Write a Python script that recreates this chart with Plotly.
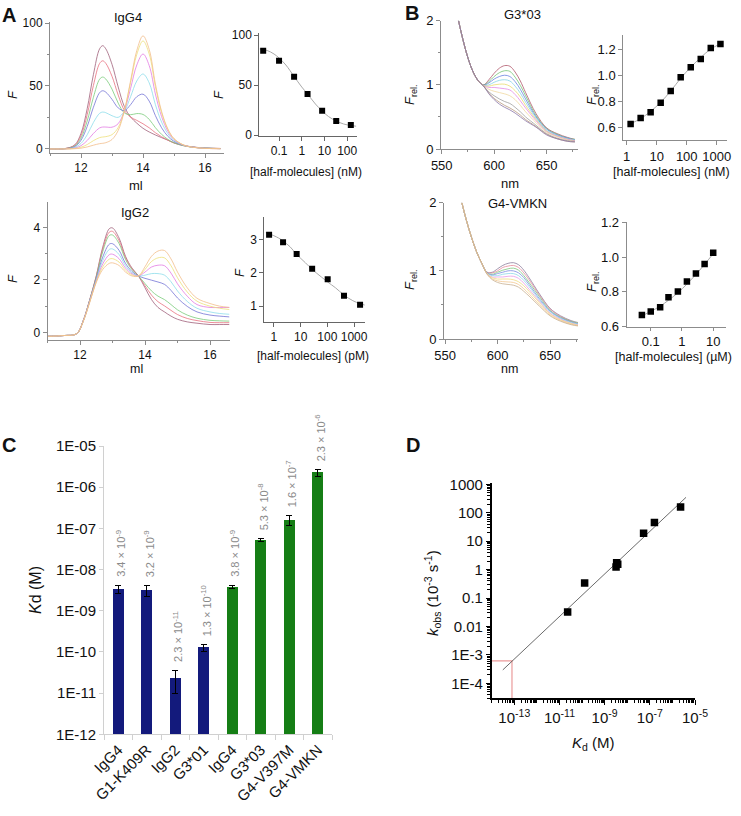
import math
import plotly.graph_objects as go

W, H = 741, 816
FONT = "Liberation Sans, Arial, Helvetica, sans-serif"

# ---------------- Panel A : SEC traces ----------------
igg4_ml = [11.0, 11.5, 11.8, 12.0, 12.2, 12.4, 12.6, 12.7, 12.8, 13.0, 13.2, 13.4,
           13.6, 13.8, 14.0, 14.2, 14.4, 14.6, 14.8, 15.0, 15.3, 15.6, 16.0, 16.5]
igg4_brown = [0, 0.4, 3.3, 12.3, 32.0, 59.0, 79.5, 82.0, 79.5, 67.2, 49.2, 33.6, 25.4, 20.5, 16.4, 13.5, 11.1, 9.0, 7.0, 4.9, 2.9, 1.6, 0.8, 0.4]
igg4_red = [0, 0.4, 2.8, 10.5, 27.3, 50.4, 67.9, 70.0, 68.0, 57.7, 42.8, 30.6, 25.3, 22.7, 20.0, 16.8, 12.9, 9.7, 7.0, 4.7, 2.7, 1.5, 0.7, 0.4]
igg4_green = [0, 0.3, 2.3, 8.6, 22.2, 41.0, 55.4, 57.1, 55.5, 47.5, 36.4, 28.6, 27.2, 28.1, 27.4, 23.5, 16.9, 11.6, 7.7, 4.9, 2.6, 1.4, 0.7, 0.3]
igg4_blue = [0, 0.2, 1.8, 6.9, 17.9, 33.1, 44.7, 46.2, 45.1, 39.4, 32.6, 30.5, 35.2, 41.5, 43.5, 38.0, 26.5, 16.8, 10.1, 6.0, 2.9, 1.5, 0.6, 0.3]
igg4_cyan = [0, 0.2, 1.2, 4.4, 11.3, 21.0, 28.3, 29.3, 28.8, 26.4, 25.1, 30.0, 41.5, 54.0, 59.5, 52.5, 35.2, 21.3, 12.2, 6.7, 3.0, 1.4, 0.6, 0.3]
igg4_magenta = [0, 0.1, 0.7, 2.6, 6.7, 12.3, 16.7, 17.4, 17.4, 17.3, 20.1, 30.3, 48.1, 66.7, 75.4, 66.2, 43.6, 25.7, 14.1, 7.5, 3.1, 1.4, 0.5, 0.2]
igg4_yellow = [0, 0.05, 0.4, 1.4, 3.5, 6.6, 9.0, 9.5, 9.8, 11.4, 17.0, 30.8, 52.8, 75.1, 85.8, 75.4, 49.4, 28.7, 15.6, 8.1, 3.3, 1.4, 0.5, 0.2]
igg4_orange = [0, 0.02, 0.2, 0.6, 1.6, 3.0, 4.2, 4.5, 5.0, 7.5, 14.7, 30.3, 54.2, 78.2, 89.8, 79.0, 51.6, 29.8, 16.0, 8.2, 3.2, 1.4, 0.5, 0.2]
igg4_traces = [igg4_brown, igg4_red, igg4_green, igg4_blue, igg4_cyan, igg4_magenta, igg4_yellow, igg4_orange]

igg2_ml = [11.0, 11.5, 11.9, 12.1, 12.3, 12.5, 12.7, 12.9, 13.0, 13.2, 13.4, 13.6,
           13.8, 14.0, 14.2, 14.4, 14.6, 14.8, 15.0, 15.3, 15.6, 16.0, 16.3, 16.6]
igg2_brown = [-0.15, -0.12, -0.05, 0.45, 1.25, 2.15, 3.25, 3.95, 3.98, 3.6, 2.9, 2.45, 2.15, 1.7, 1.25, 0.95, 0.78, 0.62, 0.5, 0.4, 0.35, 0.3, 0.3, 0.3]
igg2_red = [-0.15, -0.12, -0.05, 0.45, 1.24, 2.13, 3.17, 3.82, 3.85, 3.5, 2.84, 2.42, 2.15, 1.78, 1.42, 1.17, 1.01, 0.84, 0.68, 0.53, 0.45, 0.38, 0.37, 0.37]
igg2_green = [-0.15, -0.12, -0.05, 0.44, 1.23, 2.1, 3.08, 3.69, 3.71, 3.39, 2.78, 2.39, 2.15, 1.86, 1.58, 1.38, 1.25, 1.06, 0.86, 0.66, 0.54, 0.46, 0.44, 0.43]
igg2_blue = [-0.15, -0.12, -0.05, 0.44, 1.21, 2.04, 2.87, 3.36, 3.38, 3.13, 2.63, 2.32, 2.15, 2.06, 1.99, 1.92, 1.83, 1.6, 1.31, 0.99, 0.78, 0.66, 0.62, 0.59]
igg2_cyan = [-0.15, -0.12, -0.05, 0.43, 1.19, 2.0, 2.74, 3.16, 3.18, 2.97, 2.54, 2.27, 2.15, 2.18, 2.24, 2.24, 2.18, 1.93, 1.58, 1.18, 0.92, 0.78, 0.72, 0.69]
igg2_magenta = [-0.15, -0.12, -0.05, 0.43, 1.18, 1.96, 2.61, 2.96, 2.98, 2.81, 2.45, 2.23, 2.15, 2.3, 2.49, 2.56, 2.54, 2.26, 1.85, 1.38, 1.06, 0.95, 0.95, 0.95]
igg2_yellow = [-0.15, -0.12, -0.05, 0.42, 1.16, 1.93, 2.5, 2.79, 2.81, 2.68, 2.37, 2.19, 2.15, 2.4, 2.7, 2.84, 2.84, 2.54, 2.08, 1.54, 1.19, 1.0, 0.92, 0.87]
igg2_pink = [-0.15, -0.12, -0.05, 0.42, 1.15, 1.9, 2.4, 2.63, 2.65, 2.55, 2.3, 2.15, 2.15, 2.5, 2.9, 3.1, 3.12, 2.8, 2.3, 1.7, 1.3, 1.1, 1.0, 0.95]
igg2_traces = [igg2_brown, igg2_red, igg2_green, igg2_blue, igg2_cyan, igg2_magenta, igg2_yellow, igg2_pink]
sec_colors = ["#A0607A", "#E8707F", "#7ACB7A", "#7373D5", "#8DDDEB", "#E37BE3", "#EEE07A", "#F2BE8A"]

# titration, IgG4 (nM)
a_nm_conc = [0.02, 0.1, 0.46, 1.8, 7.9, 33, 145]
a_nm_F = [84.3, 74.3, 58.3, 41.0, 24.3, 14.0, 10.0]
a_nm_fit_x = [0.014, 0.03, 0.06, 0.1, 0.2, 0.46, 1.0, 1.8, 4.0, 7.9, 15, 33, 70, 145, 250]
a_nm_fit_y = [86, 84.5, 81, 77, 70, 58.5, 48, 41, 31, 24, 18.5, 14, 11, 9.5, 8.8]

# titration, IgG2 (pM)
a_pm_conc = [0.66, 2.2, 7.1, 27, 103, 420, 1680]
a_pm_F = [3.14, 2.91, 2.56, 2.12, 1.80, 1.31, 1.04]
a_pm_fit_x = [0.5, 0.66, 1.5, 2.2, 4, 7.1, 15, 27, 60, 103, 200, 420, 900, 1680, 2500]
a_pm_fit_y = [3.2, 3.17, 3.04, 2.95, 2.78, 2.55, 2.3, 2.1, 1.87, 1.72, 1.55, 1.33, 1.16, 1.07, 1.03]

# ---------------- Panel B : spectra ----------------
spec_nm = [566, 570, 575, 580, 585, 590, 595, 600, 605, 610, 615, 620, 625, 630, 640, 650, 660, 670, 677]
g303_spectra = [
    [2.0, 1.72, 1.42, 1.2, 1.06, 1.0, 1.08, 1.18, 1.26, 1.3, 1.29, 1.2, 1.06, 0.88, 0.55, 0.33, 0.24, 0.18, 0.15],
    [2.0, 1.72, 1.42, 1.2, 1.06, 1.0, 1.05, 1.13, 1.19, 1.22, 1.21, 1.12, 0.99, 0.83, 0.52, 0.32, 0.23, 0.17, 0.15],
    [2.0, 1.72, 1.42, 1.2, 1.06, 0.995, 1.03, 1.09, 1.13, 1.15, 1.13, 1.05, 0.93, 0.78, 0.5, 0.31, 0.22, 0.17, 0.14],
    [2.0, 1.72, 1.42, 1.2, 1.06, 0.99, 1.0, 1.04, 1.07, 1.08, 1.06, 0.98, 0.87, 0.73, 0.48, 0.29, 0.21, 0.16, 0.14],
    [2.0, 1.72, 1.42, 1.2, 1.06, 0.99, 0.98, 1.0, 1.01, 1.01, 0.98, 0.91, 0.81, 0.68, 0.46, 0.28, 0.2, 0.15, 0.13],
    [2.0, 1.72, 1.42, 1.2, 1.06, 0.99, 0.96, 0.96, 0.95, 0.94, 0.92, 0.85, 0.75, 0.64, 0.44, 0.27, 0.2, 0.15, 0.13],
    [2.0, 1.72, 1.42, 1.2, 1.06, 0.99, 0.93, 0.9, 0.88, 0.86, 0.83, 0.77, 0.68, 0.58, 0.41, 0.26, 0.19, 0.14, 0.12],
    [2.0, 1.72, 1.42, 1.2, 1.06, 0.98, 0.89, 0.83, 0.78, 0.74, 0.71, 0.65, 0.58, 0.5, 0.37, 0.24, 0.17, 0.13, 0.12],
    [2.0, 1.72, 1.42, 1.2, 1.06, 0.98, 0.87, 0.79, 0.73, 0.68, 0.64, 0.59, 0.53, 0.46, 0.35, 0.23, 0.16, 0.12, 0.11],
    [2.0, 1.72, 1.42, 1.2, 1.06, 0.98, 0.86, 0.77, 0.7, 0.65, 0.61, 0.56, 0.5, 0.44, 0.34, 0.22, 0.16, 0.12, 0.11],
]
g303_colors = ["#B0566A", "#74C474", "#6A84DF", "#86D3E6", "#EADC70", "#E48AE4",
               "#F0D8A0", "#A0A0A0", "#B89A80", "#8A76A8"]

vmkn_spectra = [
    [2.0, 1.76, 1.5, 1.28, 1.11, 0.98, 0.98, 1.03, 1.08, 1.11, 1.12, 1.09, 1.01, 0.9, 0.66, 0.45, 0.34, 0.27, 0.24],
    [2.0, 1.76, 1.5, 1.28, 1.11, 0.98, 0.97, 1.0, 1.05, 1.07, 1.08, 1.05, 0.97, 0.87, 0.64, 0.44, 0.33, 0.26, 0.23],
    [2.0, 1.76, 1.5, 1.28, 1.11, 0.97, 0.95, 0.98, 1.01, 1.03, 1.04, 1.01, 0.93, 0.83, 0.62, 0.42, 0.32, 0.26, 0.23],
    [2.0, 1.76, 1.5, 1.28, 1.11, 0.97, 0.94, 0.96, 0.98, 1.0, 1.0, 0.97, 0.9, 0.8, 0.59, 0.41, 0.31, 0.25, 0.22],
    [2.0, 1.76, 1.5, 1.28, 1.11, 0.965, 0.93, 0.93, 0.95, 0.96, 0.96, 0.93, 0.86, 0.77, 0.57, 0.4, 0.3, 0.24, 0.22],
    [2.0, 1.76, 1.5, 1.28, 1.11, 0.96, 0.91, 0.91, 0.91, 0.92, 0.92, 0.89, 0.82, 0.73, 0.55, 0.38, 0.29, 0.23, 0.21],
    [2.0, 1.76, 1.5, 1.28, 1.11, 0.96, 0.9, 0.88, 0.88, 0.88, 0.87, 0.84, 0.78, 0.7, 0.53, 0.37, 0.28, 0.23, 0.2],
    [2.0, 1.76, 1.5, 1.28, 1.11, 0.954, 0.883, 0.854, 0.842, 0.837, 0.83, 0.8, 0.737, 0.662, 0.502, 0.353, 0.27, 0.217, 0.196],
    [2.0, 1.76, 1.5, 1.28, 1.11, 0.95, 0.87, 0.83, 0.81, 0.8, 0.79, 0.76, 0.7, 0.63, 0.48, 0.34, 0.26, 0.21, 0.19],
]
vmkn_colors = ["#8C7C9C", "#E58A9A", "#7CC87C", "#7C8CE0", "#8CD8E8", "#E79AE7",
               "#F0DC80", "#F2C890", "#C8B090"]

b_nm_conc = [1.36, 2.93, 6.3, 13.6, 29.3, 63, 136, 293, 631, 1325]
b_nm_F = [0.623, 0.669, 0.713, 0.787, 0.877, 0.982, 1.059, 1.123, 1.208, 1.238]
b_nm_fit_x = [1.36, 2.93, 6.3, 13.6, 29.3, 63, 136, 293, 631, 1325]
b_nm_fit_y = [0.625, 0.665, 0.72, 0.79, 0.877, 0.975, 1.06, 1.135, 1.2, 1.24]

b_um_conc = [0.052, 0.1, 0.2, 0.37, 0.74, 1.44, 2.8, 5.3, 10.0]
b_um_F = [0.667, 0.687, 0.712, 0.769, 0.802, 0.86, 0.906, 0.96, 1.025]
b_um_fit_x = [0.052, 0.1, 0.2, 0.37, 0.74, 1.44, 2.8, 5.3, 10.0]
b_um_fit_y = [0.662, 0.688, 0.718, 0.752, 0.795, 0.845, 0.9, 0.958, 1.02]

# ---------------- Panel C : Kd bars ----------------
c_labels = ["IgG4", "G1-K409R", "IgG2", "G3*01", "IgG4", "G3*03", "G4-V397M", "G4-VMKN"]
c_kd = [3.4e-9, 3.2e-9, 2.3e-11, 1.3e-10, 3.8e-9, 5.3e-8, 1.6e-7, 2.3e-6]
c_err = [0.8e-9, 1.0e-9, 1.3e-11, 0.25e-10, 0.4e-9, 0.5e-8, 0.45e-7, 0.45e-6]
c_text = ["3.4 × 10<sup>-9</sup>", "3.2 × 10<sup>-9</sup>", "2.3 × 10<sup>-11</sup>",
          "1.3 × 10<sup>-10</sup>", "3.8 × 10<sup>-9</sup>", "5.3 × 10<sup>-8</sup>",
          "1.6 × 10<sup>-7</sup>", "2.3 × 10<sup>-6</sup>"]
c_group = ["blue", "blue", "blue", "blue", "green", "green", "green", "green"]

# ---------------- Panel D : kobs vs Kd ----------------
d_kd = [2.3e-11, 1.3e-10, 3.4e-9, 3.2e-9, 3.8e-9, 5.3e-8, 1.6e-7, 2.3e-6]
d_kobs = [0.032, 0.34, 1.75, 1.25, 1.55, 19, 46, 160]
d_fit_kd = [3.1e-14, 4.0e-6]
d_fit_kobs = [2.95e-4, 351]
d_extrap_kd = 7.9e-14
d_extrap_kobs = 6.1e-4
d_xticks = [1e-13, 1e-11, 1e-9, 1e-7, 1e-5]
d_xticktext = ["10<sup>-13</sup>", "10<sup>-11</sup>", "10<sup>-9</sup>", "10<sup>-7</sup>", "10<sup>-5</sup>"]


def dx(a, b):
    return [a / W, b / W]


def dy(t, b):
    return [1 - b / H, 1 - t / H]


GRAY = "#8c8c8c"
base = dict(showline=True, linecolor=GRAY, linewidth=1, ticks="outside", ticklen=4,
            tickcolor=GRAY, showgrid=False, zeroline=False, fixedrange=True,
            automargin=False, tickangle=0,
            tickfont=dict(family=FONT, size=12, color="#111"))


def ax(**kw):
    d = dict(base)
    d.update(kw)
    return d


fig = go.Figure()

# A1
for ys, c in zip(igg4_traces, sec_colors):
    fig.add_trace(go.Scatter(x=igg4_ml, y=ys, mode="lines", line=dict(color=c, width=0.8, shape="spline"),
                             xaxis="x", yaxis="y", showlegend=False))
# A2
fig.add_trace(go.Scatter(x=a_nm_fit_x, y=a_nm_fit_y, mode="lines", line=dict(color="#aaa", width=1, shape="spline"),
                         xaxis="x2", yaxis="y2", showlegend=False))
fig.add_trace(go.Scatter(x=a_nm_conc, y=a_nm_F, mode="markers", marker=dict(symbol="square", size=6, color="black"),
                         xaxis="x2", yaxis="y2", showlegend=False))
# A3
for ys, c in zip(igg2_traces, sec_colors):
    fig.add_trace(go.Scatter(x=igg2_ml, y=ys, mode="lines", line=dict(color=c, width=0.8, shape="spline"),
                             xaxis="x3", yaxis="y3", showlegend=False))
# A4
fig.add_trace(go.Scatter(x=a_pm_fit_x, y=a_pm_fit_y, mode="lines", line=dict(color="#aaa", width=1, shape="spline"),
                         xaxis="x4", yaxis="y4", showlegend=False))
fig.add_trace(go.Scatter(x=a_pm_conc, y=a_pm_F, mode="markers", marker=dict(symbol="square", size=6, color="black"),
                         xaxis="x4", yaxis="y4", showlegend=False))
# B1
for ys, c in zip(g303_spectra, g303_colors):
    fig.add_trace(go.Scatter(x=spec_nm, y=ys, mode="lines", line=dict(color=c, width=0.8, shape="spline"),
                             xaxis="x5", yaxis="y5", showlegend=False))
# B2
fig.add_trace(go.Scatter(x=b_nm_fit_x, y=b_nm_fit_y, mode="lines", line=dict(color="#aaa", width=1, shape="spline"),
                         xaxis="x6", yaxis="y6", showlegend=False))
fig.add_trace(go.Scatter(x=b_nm_conc, y=b_nm_F, mode="markers", marker=dict(symbol="square", size=6.5, color="black"),
                         xaxis="x6", yaxis="y6", showlegend=False))
# B3
for ys, c in zip(vmkn_spectra, vmkn_colors):
    fig.add_trace(go.Scatter(x=spec_nm, y=ys, mode="lines", line=dict(color=c, width=0.8, shape="spline"),
                             xaxis="x7", yaxis="y7", showlegend=False))
# B4
fig.add_trace(go.Scatter(x=b_um_fit_x, y=b_um_fit_y, mode="lines", line=dict(color="#aaa", width=1, shape="spline"),
                         xaxis="x8", yaxis="y8", showlegend=False))
fig.add_trace(go.Scatter(x=b_um_conc, y=b_um_F, mode="markers", marker=dict(symbol="square", size=6.5, color="black"),
                         xaxis="x8", yaxis="y8", showlegend=False))

# C
bar_colors = {"blue": "#131A7C", "green": "#157E15"}
for grp in ["blue", "green"]:
    idx = [i for i, g in enumerate(c_group) if g == grp]
    fig.add_trace(go.Bar(x=idx, y=[c_kd[i] for i in idx],
                         error_y=dict(type="data", array=[c_err[i] for i in idx], color="black",
                                      thickness=1, width=3),
                         marker=dict(color=bar_colors[grp], line=dict(width=0)),
                         width=0.39, xaxis="x9", yaxis="y9", showlegend=False))

# D
fig.add_trace(go.Scatter(x=[10 ** -14, d_extrap_kd, d_extrap_kd],
                         y=[d_extrap_kobs, d_extrap_kobs, 10 ** -4.53],
                         mode="lines", line=dict(color="#EB9A9A", width=1.2),
                         xaxis="x10", yaxis="y10", showlegend=False))
fig.add_trace(go.Scatter(x=d_fit_kd, y=d_fit_kobs, mode="lines", line=dict(color="#444", width=0.8),
                         xaxis="x10", yaxis="y10", showlegend=False))
fig.add_trace(go.Scatter(x=d_kd, y=d_kobs, mode="markers", marker=dict(symbol="square", size=7.5, color="black"),
                         xaxis="x10", yaxis="y10", showlegend=False))


def minor_lin(d, t0=0):
    return dict(dtick=d, tick0=t0, ticks="outside", ticklen=2, tickcolor=GRAY)


TF13 = dict(family=FONT, size=13, color="#111")
TF15 = dict(family=FONT, size=15, color="#111")

layout = dict(
    width=W, height=H, margin=dict(l=0, r=0, t=0, b=0, autoexpand=False),
    paper_bgcolor="white", plot_bgcolor="white", showlegend=False,
    font=dict(family=FONT, color="#111", size=12),
    bargap=0,
    # A1
    xaxis=ax(domain=dx(50, 223.6), range=[11, 16.6], tick0=12, dtick=2, minor=minor_lin(1), anchor="y"),
    yaxis=ax(domain=dy(22, 153), range=[-3.2, 100.8], tick0=0, dtick=50, minor=minor_lin(25), anchor="x"),
    # A2
    xaxis2=ax(domain=dx(259.3, 356.7), type="log", range=[-1.87, 2.42], tickvals=[0.1, 1, 10, 100],
              ticktext=["0.1", "1", "10", "100"], anchor="y2", linecolor="#666", tickcolor="#666"),
    yaxis2=ax(domain=dy(33, 136), range=[-1, 102], tickvals=[0, 50, 100], anchor="x2",
              linecolor="#666", tickcolor="#666"),
    # A3
    xaxis3=ax(domain=dx(47.5, 229.5), range=[11, 16.6], tick0=12, dtick=2, minor=minor_lin(1), anchor="y3"),
    yaxis3=ax(domain=dy(201.7, 340), range=[-0.29, 4.98], tickvals=[0, 2, 4], minor=minor_lin(1), anchor="x3"),
    # A4
    xaxis4=ax(domain=dx(264.3, 365), type="log", range=[-0.36, 3.41], tickvals=[1, 10, 100, 1000],
              ticktext=["1", "10", "100", "1000"], anchor="y4", linecolor="#666", tickcolor="#666"),
    yaxis4=ax(domain=dy(216.7, 321.7), range=[0.53, 3.68], tickvals=[1, 2, 3], anchor="x4",
              linecolor="#666", tickcolor="#666"),
    # B1
    xaxis5=ax(domain=dx(441, 578), range=[549.3, 680], tickvals=[550, 600, 650], anchor="y5",
              minor=minor_lin(25, 550), tickfont=TF13),
    yaxis5=ax(domain=dy(20.7, 149), range=[0, 2], tickvals=[0, 1, 2], minor=minor_lin(0.5), anchor="x5",
              tickfont=TF13),
    # B2
    xaxis6=ax(domain=dx(623.3, 726.7), type="log", range=[-0.11, 3.33], tickvals=[1, 10, 100, 1000],
              ticktext=["1", "10", "100", "1000"], anchor="y6", tickfont=TF13),
    yaxis6=ax(domain=dy(35, 140), range=[0.5, 1.308], tickvals=[0.6, 0.8, 1.0, 1.2],
              ticktext=["0.6", "0.8", "1.0", "1.2"], anchor="x6", tickfont=TF13),
    # B3
    xaxis7=ax(domain=dx(444, 578), range=[549, 676.6], tickvals=[550, 600, 650], anchor="y7",
              minor=minor_lin(25, 550), tickfont=TF13),
    yaxis7=ax(domain=dy(202.7, 339), range=[0, 2], tickvals=[0, 1, 2], minor=minor_lin(0.5), anchor="x7",
              tickfont=TF13),
    # B4
    xaxis8=ax(domain=dx(626.7, 725.7), type="log", range=[-1.77, 1.40], tickvals=[0.1, 1, 10],
              ticktext=["0.1", "1", "10"], anchor="y8", tickfont=TF13, ticklen=3),
    yaxis8=ax(domain=dy(222.3, 326.7), range=[0.6, 1.2], tickvals=[0.6, 0.8, 1.0, 1.2],
              ticktext=["0.6", "0.8", "1.0", "1.2"], anchor="x8", tickfont=TF13),
    # C
    xaxis9=ax(domain=dx(104, 332), range=[-0.5, 7.5], tickvals=list(range(8)), ticktext=c_labels,
              tickangle=-45, ticks="", linecolor="#d0d0d0", anchor="y9",
              minor=dict(tick0=-0.5, dtick=1, ticks="outside", ticklen=5, tickcolor="#d0d0d0"),
              tickfont=TF15),
    yaxis9=ax(domain=dy(446, 734.3), type="log", range=[-12, -5],
              tickvals=[1e-12, 1e-11, 1e-10, 1e-9, 1e-8, 1e-7, 1e-6, 1e-5],
              ticktext=["1E-12", "1E-11", "1E-10", "1E-09", "1E-08", "1E-07", "1E-06", "1E-05"],
              linecolor="#d0d0d0", tickcolor="#d0d0d0", ticklen=4, anchor="x9", tickfont=TF15),
    # D
    xaxis10=ax(domain=dx(491.7, 695), type="log", range=[-14, -5], tickvals=d_xticks, ticktext=d_xticktext,
               linecolor="black", linewidth=1.5, tickcolor="black", ticklen=5,
               minor=dict(dtick="D1", ticks="outside", ticklen=2.5, tickcolor="black"),
               anchor="y10", tickfont=TF15),
    yaxis10=ax(domain=dy(483.3, 698.3), type="log", range=[-4.53, 3.04],
               tickvals=[1e-4, 1e-3, 0.01, 0.1, 1, 10, 100, 1000],
               ticktext=["1E-4", "1E-3", "0.01", "0.1", "1", "10", "100", "1000"],
               linecolor="black", linewidth=1.5, tickcolor="black", ticklen=4,
               minor=dict(dtick="D1", ticks="outside", ticklen=2.5, tickcolor="black"),
               anchor="x10", tickfont=TF15),
)
fig.update_layout(**layout)

ann = []


def label(text, px, py, size=12, angle=0, bold=False, color="#111"):
    if bold:
        text = "<b>" + text + "</b>"
    ann.append(dict(text=text, x=px / W, y=1 - py / H, xref="paper", yref="paper",
                    xanchor="center", yanchor="middle", showarrow=False, textangle=angle,
                    font=dict(family=FONT, size=size, color=color)))


F_REL = "<i>F</i><sub>rel.</sub>"
label("A", 9, 15, 20, bold=True)
label("B", 412, 13, 20, bold=True)
label("C", 9, 445, 20, bold=True)
label("D", 413, 445, 20, bold=True)

label("IgG4", 128, 17, 13)
label("ml", 136, 186, 13)
label("<i>F</i>", 12, 95, 13, -90)
label("<i>F</i>", 218, 95, 13, -90)
label("[half-molecules] (nM)", 306, 172, 12)

label("IgG2", 135, 213, 13)
label("ml", 136, 369, 12.5)
label("<i>F</i>", 12, 279, 13, -90)
label("<i>F</i>", 240, 273, 13, -90)
label("[half-molecules] (pM)", 313, 356, 12)

label("G3*03", 522, 14, 13)
label("nm", 510, 184, 13)
label(F_REL, 410, 95, 13, -90)
label(F_REL, 592, 95, 13, -90)
label("[half-molecules] (nM)", 671, 172, 12.5)

label("G4-VMKN", 517, 203, 13)
label("nm", 510, 369, 12.5)
label(F_REL, 410, 280, 13, -90)
label(F_REL, 592, 282, 13, -90)
label("[half-molecules] (µM)", 673, 357, 12.5)

label("<i>K</i>d (M)", 35, 590, 16, -90)
label("<i>k</i><sub>obs</sub> (10<sup>-3</sup> s<sup>-1</sup>)", 432, 593, 15, -90)
label("<i>K</i><sub>d</sub> (M)", 593, 743, 15)

for i, (v, e, t) in enumerate(zip(c_kd, c_err, c_text)):
    ann.append(dict(text=t, x=i, y=math.log10(v + e), xref="x9", yref="y9", xanchor="center",
                    yanchor="bottom", yshift=6, xshift=2, showarrow=False, textangle=-90,
                    font=dict(family=FONT, size=11, color="#8a8a8a")))

fig.update_layout(annotations=ann)
fig.write_html("out.html", config={"displayModeBar": False},
               post_script="document.body.style.margin='0';document.body.style.overflow='hidden';")
